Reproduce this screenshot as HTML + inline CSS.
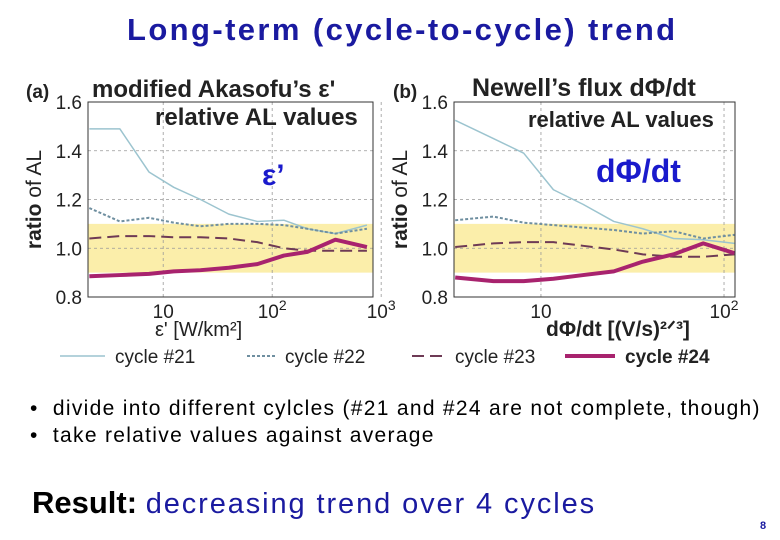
<!DOCTYPE html>
<html><head><meta charset="utf-8"><style>
body{margin:0;background:#fff;width:780px;height:540px;overflow:hidden;font-family:"Liberation Sans",sans-serif;position:relative}
.t{position:absolute;white-space:nowrap}
</style></head><body>
<div class="t" style="left:127px;top:12px;font-size:31px;font-weight:bold;letter-spacing:2.4px;color:#1a1aa0">Long-term (cycle-to-cycle) trend</div>
<svg id="ch" width="780" height="380" style="position:absolute;left:0;top:0"></svg>
<div class="t" style="left:30px;top:397px;font-size:21px;letter-spacing:1.3px">•&nbsp; divide into different cylcles (#21 and #24 are not complete, though)</div>
<div class="t" style="left:30px;top:424px;font-size:21px;letter-spacing:1.3px">•&nbsp; take relative values against average</div>
<div class="t" style="left:32px;top:485px;font-size:31px"><b>Result:</b> <span style="color:#1a1aa0;font-size:29px;letter-spacing:1.9px">decreasing trend over 4 cycles</span></div>
<div class="t" style="left:760px;top:520px;font-size:11px;color:#1a1aa0;font-weight:bold">8</div>
<script>
const xA=[2.1,4,7.4,12.5,22,40,73,128,210,380,740];
const a21=[1.49,1.49,1.313,1.25,1.2,1.14,1.11,1.115,1.08,1.06,1.095];
const a22=[1.165,1.11,1.125,1.105,1.09,1.1,1.1,1.095,1.08,1.06,1.08];
const a23=[1.04,1.05,1.05,1.045,1.045,1.04,1.025,1.0,0.99,0.99,0.99];
const a24=[0.885,0.89,0.895,0.905,0.91,0.92,0.935,0.97,0.985,1.035,1.005];
const xB=[3.4,5.5,8.05,11.7,17,25,36,53,77,114];
const b21=[1.525,1.45,1.39,1.24,1.18,1.11,1.08,1.04,1.035,1.02];
const b22=[1.115,1.13,1.105,1.095,1.085,1.075,1.06,1.07,1.04,1.055];
const b23=[1.005,1.02,1.025,1.025,1.01,0.995,0.975,0.965,0.965,0.975];
const b24=[0.88,0.865,0.865,0.875,0.89,0.905,0.945,0.975,1.02,0.98];
const yTicks=[0.8,1.0,1.2,1.4,1.6];
const NS="http://www.w3.org/2000/svg";
const svg=document.getElementById('ch');
function mk(tag,at,txt){const e=document.createElementNS(NS,tag);for(const k in at)e.setAttribute(k,at[k]);if(txt!=null)e.textContent=txt;svg.appendChild(e);return e;}
const styles=[{s:'#9cc4cf',w:1.5,d:''},{s:'#6f8fa0',w:2,d:'3,2'},{s:'#6e3a55',w:2,d:'12,6'},{s:'#a8236e',w:4,d:''}];
function panel(P){
  const X=v=>P.x0+(Math.log10(v)-P.l0)/(P.l1-P.l0)*(P.x1-P.x0);
  const Y=v=>P.y1-(v-0.8)/0.8*(P.y1-P.y0);
  let e=mk('rect',{x:P.x0,y:Y(1.1),width:P.x1-P.x0,height:Y(0.9)-Y(1.1),fill:'#fbeeaa'});
  
  yTicks.forEach(t=>{
    if(t>0.8&&t<1.6){e=mk('line',{x1:P.x0,x2:P.x1,y1:Y(t),y2:Y(t),stroke:'#999','stroke-dasharray':'3,3','stroke-width':0.8});}
    e=mk('text',{x:P.x0-6,y:Y(t)+7,'text-anchor':'end','font-size':19,fill:'#222'},t.toFixed(1));
    
  });
  P.xt.forEach((t,i)=>{
    e=mk('line',{x1:X(t),x2:X(t),y1:P.y0,y2:P.y1,stroke:'#999','stroke-dasharray':'3,3','stroke-width':0.8});
    
    e=mk('text',{x:X(t),y:P.y1+21,'text-anchor':'middle','font-size':19,fill:'#222'});
    e.innerHTML=P.xl[i];
    
  });
  P.series.forEach((s,k)=>{
    const st=styles[k];
    e=mk('polyline',{points:s.map((v,i)=>X(P.xs[i])+','+Y(v)).join(' '),fill:'none',stroke:st.s,'stroke-width':st.w,'stroke-dasharray':st.d,'stroke-linejoin':'round'});
    
  });
  e=mk('rect',{x:P.x0,y:P.y0,width:P.x1-P.x0,height:P.y1-P.y0,fill:'none',stroke:'#333','stroke-width':1});
  
  e=mk('text',{x:0,y:0,transform:`translate(${P.x0-47},${Y(1.2)}) rotate(-90)`,'text-anchor':'middle','font-size':21,fill:'#222'});
  e.innerHTML='<tspan font-weight="bold">ratio</tspan> of AL';
  
}
panel({x0:88,x1:373,y0:102,y1:297,l0:0.31,l1:2.925,xs:xA,series:[a21,a22,a23,a24],xt:[10,100,1000],xl:['10','10<tspan dy="-8" font-size="14">2</tspan>','10<tspan dy="-8" font-size="14">3</tspan>']});
panel({x0:454,x1:735,y0:102,y1:297,l0:0.525,l1:2.06,xs:xB,series:[b21,b22,b23,b24],xt:[10,100],xl:['10','10<tspan dy="-8" font-size="14">2</tspan>']});
let e;
const txt=[[26,98,'(a)',19,'bold','#222','label-a'],[92,97,'modified Akasofu’s ε\'',24,'bold','#222','title-a'],[155,125,'relative AL values',24,'bold','#222','subtitle-a'],
[262,185,'ε’',30,'bold','#1a1acc','annot-eps'],[155,336,'ε\' [W/km²]',20,'normal','#222','x-axis-title-a'],
[393,98,'(b)',19,'bold','#222','label-b'],[472,96,'Newell’s flux dΦ/dt',25,'bold','#222','title-b'],[528,127,'relative AL values',22,'bold','#222','subtitle-b'],
[596,182,'dΦ/dt',32,'bold','#1a1acc','annot-phi'],[546,336,'dΦ/dt [(V/s)²ᐟ³]',21,'bold','#222','x-axis-title-b']];
txt.forEach(t=>{e=mk('text',{x:t[0],y:t[1],'font-size':t[3],'font-weight':t[4],fill:t[5]},t[2]);});
const leg=['cycle #21','cycle #22','cycle #23','cycle #24'];
leg.forEach((l,k)=>{const st=styles[k];const sx=[60,247,412,565][k],tx=[115,285,455,625][k];
  e=mk('line',{x1:sx,x2:tx-10,y1:356,y2:356,stroke:st.s,'stroke-width':st.w,'stroke-dasharray':st.d});
  e=mk('text',{x:tx,y:363,'font-size':19,'font-weight':k==3?'bold':'normal',fill:'#222'},l);
});
</script>
</body></html>
